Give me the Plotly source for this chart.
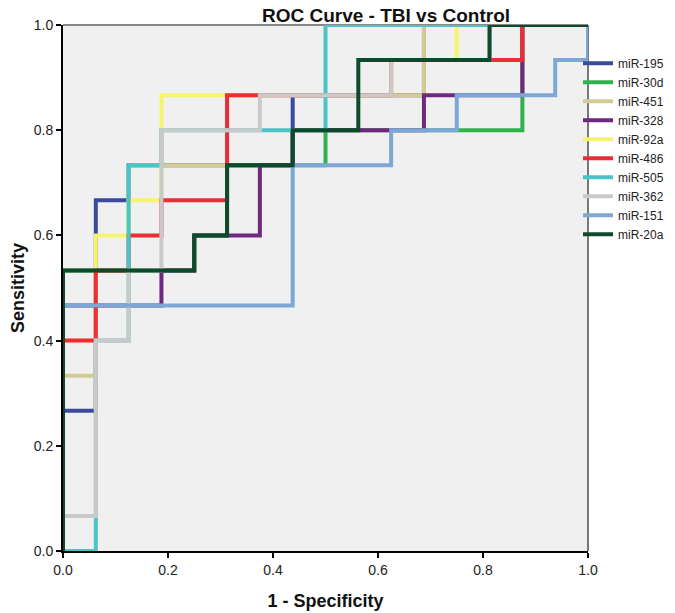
import plotly.graph_objects as go

# ROC step points: false-positive counts (of 16 controls) and true-positive counts (of 15 TBI)
N_CONTROL = 16
N_TBI = 15

series_names = ["miR-195", "miR-30d", "miR-451", "miR-328", "miR-92a",
                "miR-486", "miR-505", "miR-362", "miR-151", "miR-20a"]

fp_195 = [0, 1, 2, 7, 11, 16]
tp_195 = [0, 4, 10, 11, 13, 15]

fp_30d = [0, 4, 5, 8, 14, 16]
tp_30d = [0, 8, 9, 11, 12, 15]

fp_451 = [0, 1, 2, 5, 11, 16]
tp_451 = [0, 5, 8, 11, 13, 15]

fp_328 = [0, 3, 4, 6, 7, 11, 14, 16]
tp_328 = [0, 7, 8, 9, 11, 12, 13, 15]

fp_92a = [0, 1, 2, 3, 10, 12, 16]
tp_92a = [0, 6, 9, 10, 13, 14, 15]

fp_486 = [0, 1, 2, 3, 5, 10, 14, 16]
tp_486 = [0, 6, 8, 9, 10, 13, 14, 15]

fp_505 = [0, 1, 2, 3, 8, 16]
tp_505 = [0, 0, 6, 11, 12, 15]

fp_362 = [0, 1, 2, 3, 6, 10, 13, 16]
tp_362 = [0, 1, 6, 8, 12, 13, 14, 15]

fp_151 = [0, 7, 10, 12, 15, 16, 16]
tp_151 = [0, 7, 11, 12, 13, 14, 15]

fp_20a = [0, 4, 5, 7, 9, 13, 16]
tp_20a = [0, 8, 9, 11, 12, 14, 15]

series_fp = [fp_195, fp_30d, fp_451, fp_328, fp_92a, fp_486, fp_505, fp_362, fp_151, fp_20a]
series_tp = [tp_195, tp_30d, tp_451, tp_328, tp_92a, tp_486, tp_505, tp_362, tp_151, tp_20a]

colors = ["#3a4b9f", "#2fb24c", "#d3ca96", "#70287f", "#f6f46c",
          "#ec2d37", "#4cc3c6", "#c9c9c9", "#7da8d6", "#0c4a2b"]

tick_vals = [0.0, 0.2, 0.4, 0.6, 0.8, 1.0]
tick_text = ["0.0", "0.2", "0.4", "0.6", "0.8", "1.0"]

FONT = "Arial, Liberation Sans, sans-serif"

# the page body adds an 8px margin, so the figure is sized to end at the window edge
FIG_W, FIG_H = 667, 605

fig = go.Figure()
for name, fp, tp, c in zip(series_names, series_fp, series_tp, colors):
    fig.add_trace(go.Scatter(
        x=[v / N_CONTROL for v in fp],
        y=[v / N_TBI for v in tp],
        mode="lines",
        line=dict(color=c, width=4, shape="vh"),
        name=name,
        cliponaxis=False,
        hoverinfo="skip",
    ))

fig.update_layout(
    width=FIG_W, height=FIG_H,
    margin=dict(l=55, r=87, t=17, b=62, autoexpand=False),
    paper_bgcolor="white",
    plot_bgcolor="#f0f0f0",
    font=dict(family=FONT, color="#222222"),
    title=dict(text="<b>ROC Curve - TBI vs Control</b>", x=378 / FIG_W, xanchor="center",
               xref="container", y=1 - 7.5 / FIG_H, yanchor="middle", yref="container",
               font=dict(size=19, color="#111111", family=FONT)),
    showlegend=True,
    legend=dict(x=570 / FIG_W, xanchor="left", xref="container",
                y=0.955, yanchor="top",
                font=dict(size=12, color="#222222", family=FONT),
                bgcolor="rgba(0,0,0,0)", borderwidth=0, tracegroupgap=0),
    shapes=[
        dict(type="line", xref="paper", yref="paper", x0=0, x1=1, y0=1, y1=1,
             line=dict(color="#888888", width=2), layer="below"),
        dict(type="line", xref="paper", yref="paper", x0=1, x1=1, y0=0, y1=1,
             line=dict(color="#777777", width=2), layer="below"),
    ],
)

fig.update_xaxes(
    range=[0, 1], tickvals=tick_vals, ticktext=tick_text, automargin=False,
    showgrid=False, zeroline=False,
    showline=True, linecolor="#000000", linewidth=2,
    ticks="outside", ticklen=5, tickwidth=2, tickcolor="#000000",
    tickfont=dict(size=14, color="#222222", family=FONT),
    title=dict(text="<b>1 - Specificity</b>", font=dict(size=18, color="#111111", family=FONT), standoff=18),
)
fig.update_yaxes(
    range=[0, 1], tickvals=tick_vals, ticktext=tick_text, automargin=False,
    showgrid=False, zeroline=False,
    showline=True, linecolor="#000000", linewidth=2,
    ticks="outside", ticklen=5, tickwidth=2, tickcolor="#000000",
    tickfont=dict(size=14, color="#222222", family=FONT),
    title=dict(text="<b>Sensitivity</b>", font=dict(size=18, color="#111111", family=FONT), standoff=16),
)

fig.write_html("out.html")
